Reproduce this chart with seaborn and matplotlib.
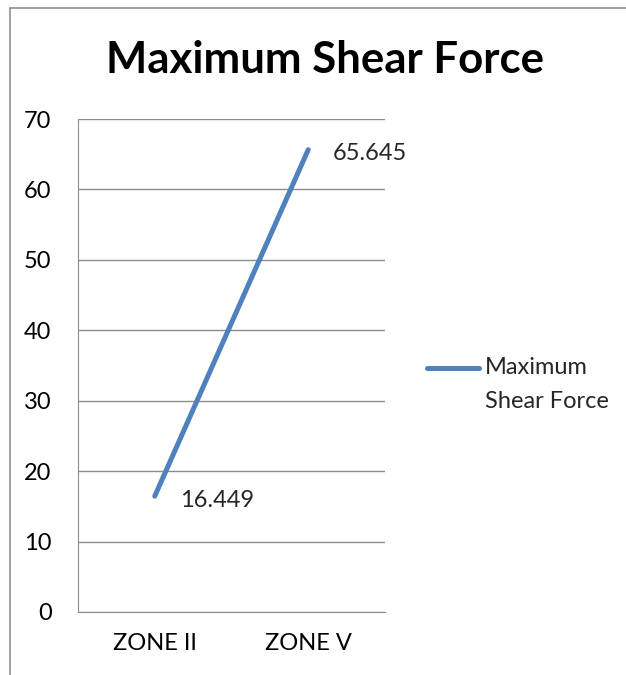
import pandas as pd
import numpy as np
import matplotlib.pyplot as plt
import seaborn as sns
from matplotlib.lines import Line2D

zones = ['ZONE II', 'ZONE V']
shear = [16.449, 65.645]
yticks = [0, 10, 20, 30, 40, 50, 60, 70]

df = pd.DataFrame({'zone': zones, 'shear': shear})

sns.set_style('white')
plt.rcParams['font.family'] = ['Lato', 'DejaVu Sans']

W, H = 626, 675
fig = plt.figure(figsize=(W / 100, H / 100), dpi=100)
ax = fig.add_axes([78 / W, 1 - 612 / H, (385 - 78) / W, (612 - 119) / H])

sns.lineplot(data=df, x='zone', y='shear', ax=ax, color='#4F81BD',
             linewidth=3.6, solid_capstyle='round', legend=False)

ax.set_xlim(-0.5, 1.5)
ax.set_ylim(0, 70)
ax.set_yticks(yticks)
ax.yaxis.grid(True, color='#8c8c8c', linewidth=1)
ax.xaxis.grid(False)
for s in ['top', 'right']:
    ax.spines[s].set_visible(False)
ax.spines['left'].set_color('#8c8c8c')
ax.spines['bottom'].set_color('#8c8c8c')
ax.tick_params(axis='both', length=0, labelsize=17, labelcolor='black')
ax.tick_params(axis='y', pad=19)
ax.tick_params(axis='x', pad=15)
ax.set_xlabel('')
ax.set_ylabel('')

for i, v in enumerate(shear):
    ax.annotate(f'{v:g}', (i, v), xytext=(18, -3), textcoords='offset points',
                fontsize=17, va='center', ha='left')

fig.text(325 / W, 1 - 60 / H, 'Maximum Shear Force', ha='center', va='center',
         fontsize=31.5, fontweight='bold', color='black')

# legend drawn by hand at the right, as in the original
fig.add_artist(Line2D([427 / W, 479 / W], [1 - 368 / H] * 2, color='#4F81BD',
                      linewidth=3.6, solid_capstyle='round'))
fig.text(485 / W, 1 - 368 / H, 'Maximum', fontsize=17, va='center')
fig.text(485 / W, 1 - 402 / H, 'Shear Force', fontsize=17, va='center')

# chart frame (top and left edges)
fig.add_artist(Line2D([10 / W, 1], [1 - 8 / H] * 2, color='#8f8f8f', linewidth=1.2))
fig.add_artist(Line2D([10 / W] * 2, [0, 1 - 8 / H], color='#8f8f8f', linewidth=1.2))

plt.savefig('out.png', dpi=100)
